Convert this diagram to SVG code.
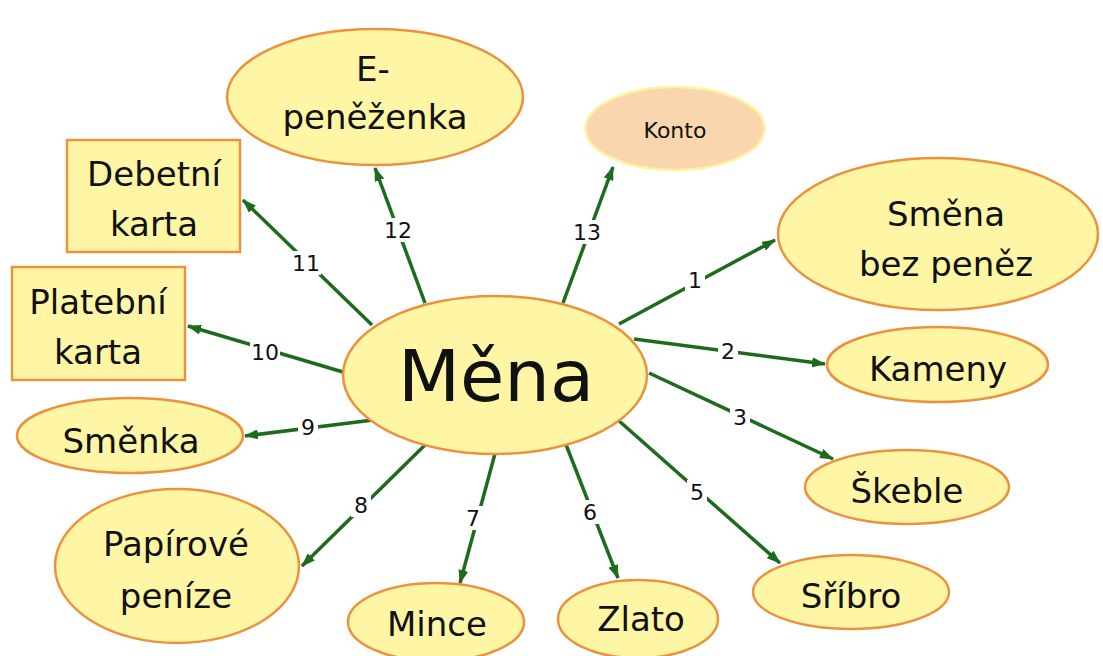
<svg xmlns="http://www.w3.org/2000/svg" width="1103" height="656" viewBox="0 0 1103 656">
<defs>
<style>
.n{fill:#fef6a4;stroke:#ea9240;stroke-width:2.5}
.k{fill:#fad6ae;stroke:#fdf3a0;stroke-width:2.5}
.t{font-family:"DejaVu Sans",sans-serif;font-size:34px;fill:#111;text-anchor:middle}
.e{stroke:#1d6b1d;stroke-width:3.5;fill:none;marker-end:url(#ah)}
.b{fill:#fff}
.l{font-family:"DejaVu Sans",sans-serif;font-size:22px;fill:#111;text-anchor:middle}
</style>
<marker id="ah" viewBox="0 0 14 10" refX="13" refY="5" markerWidth="14" markerHeight="10" markerUnits="userSpaceOnUse" orient="auto">
<path d="M0,0 L14,5 L0,10 Z" fill="#1d6b1d"/>
</marker>
</defs>
<rect width="1103" height="656" fill="#fff"/>
<g id="connectors">
<line class="e" x1="619" y1="324" x2="775" y2="240"/>
<line class="e" x1="634" y1="339" x2="825" y2="364"/>
<line class="e" x1="649" y1="373" x2="833" y2="459"/>
<line class="e" x1="618" y1="420" x2="780" y2="563"/>
<line class="e" x1="565" y1="442" x2="618" y2="578"/>
<line class="e" x1="496" y1="450" x2="460" y2="583"/>
<line class="e" x1="427" y1="443" x2="302" y2="566"/>
<line class="e" x1="373" y1="420" x2="245" y2="436"/>
<line class="e" x1="343" y1="372" x2="188" y2="326"/>
<line class="e" x1="372" y1="325" x2="243" y2="200"/>
<line class="e" x1="425" y1="303" x2="375" y2="168"/>
<line class="e" x1="563" y1="303" x2="613" y2="167"/>
<rect class="b" x="685" y="268" width="20" height="24"/><text class="l" x="695" y="288">1</text>
<rect class="b" x="718" y="339" width="20" height="24"/><text class="l" x="728" y="359">2</text>
<rect class="b" x="730" y="405" width="20" height="24"/><text class="l" x="740" y="425">3</text>
<rect class="b" x="687" y="480" width="20" height="24"/><text class="l" x="697" y="500">5</text>
<rect class="b" x="580" y="500" width="20" height="24"/><text class="l" x="590" y="520">6</text>
<rect class="b" x="463" y="506" width="20" height="24"/><text class="l" x="473" y="526">7</text>
<rect class="b" x="351" y="493" width="20" height="24"/><text class="l" x="361" y="513">8</text>
<rect class="b" x="298" y="415" width="20" height="24"/><text class="l" x="308" y="435">9</text>
<rect class="b" x="250" y="340" width="30" height="24"/><text class="l" x="265" y="360">10</text>
<rect class="b" x="291" y="251" width="30" height="24"/><text class="l" x="306" y="271">11</text>
<rect class="b" x="383" y="218" width="30" height="24"/><text class="l" x="398" y="238">12</text>
<rect class="b" x="572" y="220" width="30" height="24"/><text class="l" x="587" y="240">13</text>
</g>
<g id="mena"><ellipse class="n" cx="495" cy="375" rx="152" ry="79"/><text class="t" x="496" y="401" style="font-size:72px">Měna</text></g>
<g id="epenezenka"><ellipse class="n" cx="375" cy="97" rx="148" ry="68"/><text class="t" x="373" y="81">E-</text><text class="t" x="375" y="129">peněženka</text></g>
<g id="konto"><ellipse class="k" cx="675" cy="128.5" rx="89.5" ry="41.5"/><text class="t" x="675" y="138" style="font-size:22px">Konto</text></g>
<g id="debetni"><rect class="n" x="67" y="140" width="173" height="112"/><text class="t" x="154" y="186">Debetní</text><text class="t" x="154" y="236">karta</text></g>
<g id="platebni"><rect class="n" x="12" y="267" width="173" height="113"/><text class="t" x="98" y="314">Platební</text><text class="t" x="98" y="364">karta</text></g>
<g id="smenka"><ellipse class="n" cx="130" cy="435.5" rx="113" ry="37.5"/><text class="t" x="131" y="453">Směnka</text></g>
<g id="papirove"><ellipse class="n" cx="177" cy="566" rx="122" ry="77"/><text class="t" x="176" y="556">Papírové</text><text class="t" x="176" y="608">peníze</text></g>
<g id="mince"><ellipse class="n" cx="436" cy="622" rx="88" ry="39"/><text class="t" x="437" y="636">Mince</text></g>
<g id="zlato"><ellipse class="n" cx="638" cy="619" rx="80" ry="39"/><text class="t" x="641" y="631">Zlato</text></g>
<g id="sribro"><ellipse class="n" cx="851" cy="592" rx="98" ry="37"/><text class="t" x="851" y="608">Sříbro</text></g>
<g id="skeble"><ellipse class="n" cx="907" cy="487" rx="102" ry="37"/><text class="t" x="907" y="503">Škeble</text></g>
<g id="kameny"><ellipse class="n" cx="937.5" cy="364.5" rx="110.5" ry="37.5"/><text class="t" x="938" y="381">Kameny</text></g>
<g id="smena"><ellipse class="n" cx="938" cy="234" rx="160" ry="76"/><text class="t" x="946" y="226">Směna</text><text class="t" x="946" y="276">bez peněz</text></g>
</svg>
